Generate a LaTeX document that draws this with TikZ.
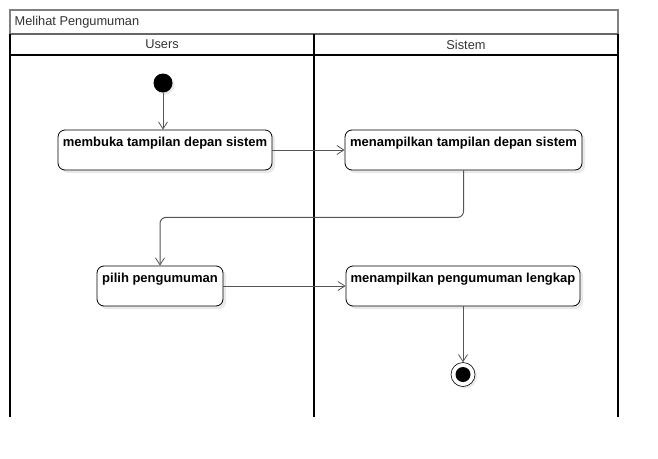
\documentclass[tikz,border=0pt]{standalone}
\usepackage{fontspec}
\setmainfont{Liberation Sans}
\usetikzlibrary{arrows.meta,shadows}
\definecolor{lanegray}{HTML}{333333}
\definecolor{flowgray}{HTML}{555555}
\begin{document}
\begin{tikzpicture}[x=1pt,y=-1pt,
  act/.style={draw=black, line width=0.8pt, rounded corners=7pt, fill=white,
    drop shadow={shadow xshift=3pt, shadow yshift=-3pt, fill=gray!25, opacity=0.7},
    inner sep=0pt},
  lbl/.style={anchor=base, inner sep=0pt, yshift=-17pt, text=black,
    font=\bfseries\fontsize{13}{15}\selectfont},
  flow/.style={draw=flowgray, line width=1pt, -{Straight Barb[length=7pt,width=9pt,line width=0.8pt]}},
  lane/.style={draw=black, line width=1.6pt},
  hdr/.style={text=lanegray, font=\fontsize{12.8}{14}\selectfont, inner sep=0pt}
]
\useasboundingbox (0,0) rectangle (658,458);
% frame
\draw[draw=gray, line width=1.2pt] (10,34) -- (10,10) -- (618,10) -- (618,34);
\draw[draw=gray!80!black, line width=1.4pt] (10,34) -- (618,34);
\draw[lane] (10,34) -- (10,417);
\draw[lane] (314,34) -- (314,417);
\draw[lane] (618,34) -- (618,417);
\draw[lane] (10,55) -- (618,55);
\node[hdr, anchor=west] (title) at (14.5,22) {Melihat Pengumuman};
\node[hdr] (users) at (162,44.5) {Users};
\node[hdr] (sistem) at (466,44.5) {Sistem};
% start / end
\node[circle, fill=black, minimum size=19pt, inner sep=0pt,
  drop shadow={shadow xshift=2pt, shadow yshift=-2pt, fill=gray!25, opacity=0.7}] (start) at (163,83) {};
\node[circle, draw=black, line width=0.6pt, fill=white, minimum size=24pt, inner sep=0pt,
  drop shadow={shadow xshift=2pt, shadow yshift=-2pt, fill=gray!25, opacity=0.7},
  path picture={\fill[black] (path picture bounding box.center) circle (7.5pt);}] (end) at (463,374.5) {};
% activities
\node[act, minimum width=214pt, minimum height=40pt,
  label={[lbl]north:membuka tampilan depan sistem}] (a1) at (165,150) {};
\node[act, minimum width=237pt, minimum height=40pt,
  label={[lbl]north:menampilkan tampilan depan sistem}] (a2) at (463.5,150) {};
\node[act, minimum width=126pt, minimum height=40pt,
  label={[lbl]north:pilih pengumuman}] (a3) at (160,286) {};
\node[act, minimum width=234pt, minimum height=40pt,
  label={[lbl]north:menampilkan pengumuman lengkap}] (a4) at (463,286) {};
% flows
\draw[flow] (start) -- (start |- a1.north);
\draw[flow] (a1) -- (a2);
\draw[flow, rounded corners=6pt] (a2.south) -- ++(0,47) -| (a3.north);
\draw[flow] (a3) -- (a4);
\draw[flow] (a4) -- (end);
\end{tikzpicture}
\end{document}
